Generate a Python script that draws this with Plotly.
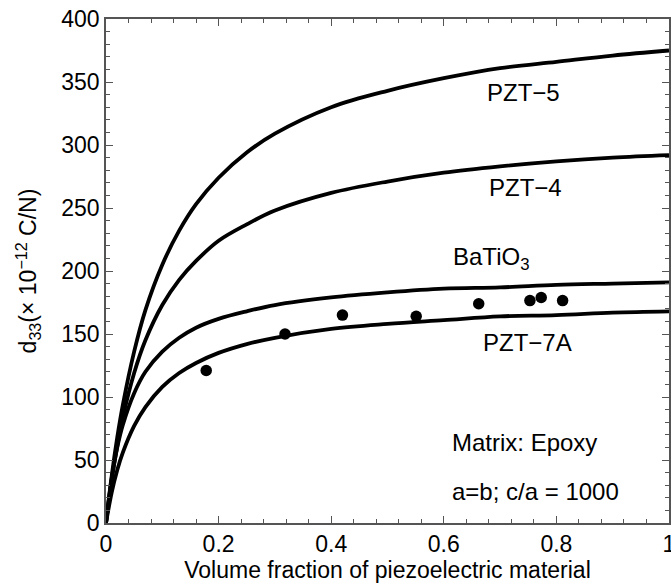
import plotly.graph_objects as go

# Volume fraction grid
v_grid = [0, 0.01, 0.02, 0.03, 0.05, 0.07, 0.1, 0.13, 0.16, 0.2, 0.25, 0.3,
          0.4, 0.5, 0.6, 0.7, 0.8, 0.9, 1.0]
pzt5 = [0, 37, 68, 94, 136, 169, 205, 232, 253, 274, 294, 309,
        330, 343, 353, 361, 366, 371, 375]
pzt4 = [0, 34, 61, 84, 119, 145, 173, 193, 208, 224, 237, 248,
        262, 271, 278, 283, 287, 290, 292]
batio3 = [0, 35, 60, 78, 103, 120, 136, 147, 155, 162, 168, 173,
          179, 183, 186, 187, 189, 190, 191]
pzt7a = [0, 24, 42, 56, 77, 92, 108, 119, 127, 135, 142, 147,
         154, 158, 161, 164, 165, 167, 168]

# Experimental points
exp_v = [0.178, 0.318, 0.42, 0.551, 0.662, 0.753, 0.773, 0.811]
exp_d = [121, 150, 165, 164, 174, 176.5, 179, 176.5]

# Text labels
curve_labels = ["PZT−5", "PZT−4", "BaTiO<sub>3</sub>", "PZT−7A"]
label_x = [0.741, 0.745, 0.683, 0.748]
label_y = [342, 266, 210, 143]
note_labels = ["Matrix: Epoxy", "a=b; c/a = 1000"]
note_x = [0.611, 0.611]
note_y = [64, 25]

x_ticks = [0, 0.2, 0.4, 0.6, 0.8, 1]
x_ticktext = ["0", "0.2", "0.4", "0.6", "0.8", "1"]
y_ticks = [0, 50, 100, 150, 200, 250, 300, 350, 400]

FONT = "Liberation Sans, Arial, Helvetica, sans-serif"

fig = go.Figure()
for ys in [pzt5, pzt4, batio3, pzt7a]:
    fig.add_trace(go.Scatter(x=v_grid, y=ys, mode="lines",
                             line=dict(color="black", width=3.8, shape="spline", smoothing=1.0),
                             showlegend=False, hoverinfo="skip"))
fig.add_trace(go.Scatter(x=exp_v, y=exp_d, mode="markers",
                         marker=dict(color="black", size=11.5),
                         showlegend=False))

for t, x, y in zip(curve_labels, label_x, label_y):
    fig.add_annotation(x=x, y=y, text=t, showarrow=False, xanchor="center", yanchor="middle",
                       font=dict(family=FONT, size=24, color="black"))
for t, x, y in zip(note_labels, note_x, note_y):
    fig.add_annotation(x=x, y=y, text=t, showarrow=False, xanchor="left", yanchor="middle",
                       font=dict(family=FONT, size=24, color="black"))

axis_common = dict(
    showgrid=False, zeroline=False, showline=True, linecolor="#555", linewidth=1.5,
    mirror="ticks", ticks="inside", ticklen=7, tickwidth=1.2, tickcolor="#555",
    tickfont=dict(family=FONT, size=23, color="black"), automargin=False,
    ticklabeloverflow="allow",
)

fig.update_layout(
    width=671, height=584,
    margin=dict(l=106, r=2, t=19, b=61),
    paper_bgcolor="white", plot_bgcolor="white",
    template="none",
    font=dict(family=FONT, color="black"),
    xaxis=dict(range=[0, 1], tickvals=x_ticks, ticktext=x_ticktext,
               minor=dict(dtick=0.04, ticks="inside", ticklen=4, tickcolor="#555", tickwidth=1),
               title=dict(text="Volume fraction of piezoelectric material",
                          font=dict(family=FONT, size=23, color="black"), standoff=4),
               **axis_common),
    yaxis=dict(range=[0, 400], tickvals=y_ticks,
               minor=dict(dtick=10, ticks="inside", ticklen=4, tickcolor="#555", tickwidth=1),
               title=dict(text="d<sub>33</sub>(× 10<sup>−12</sup> C/N)",
                          font=dict(family=FONT, size=23, color="black"), standoff=18),
               **axis_common),
)

fig.write_html(
    "out.html",
    config={"displayModeBar": False},
    post_script="document.body.style.margin='0';document.body.style.overflow='hidden';"
                "document.documentElement.style.overflow='hidden';window.scrollTo(0,0);",
)
